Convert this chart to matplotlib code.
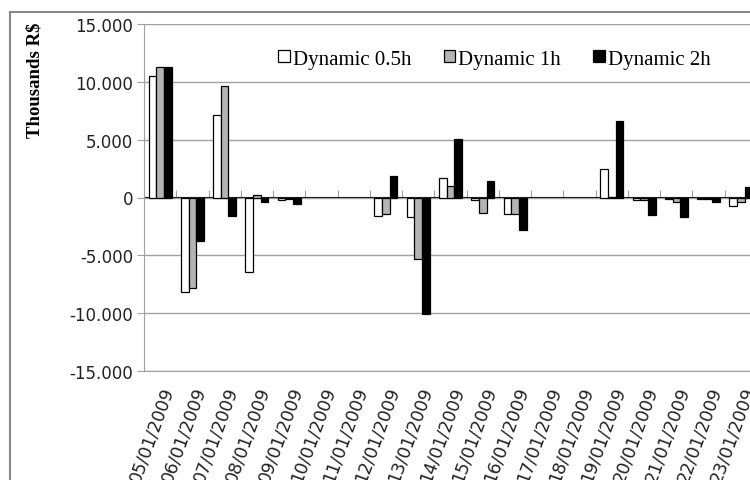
import matplotlib
matplotlib.use("Agg")
import matplotlib.pyplot as plt
import matplotlib.ticker as mtick
import numpy as np
from matplotlib.patches import Rectangle

# Daily result per strategy, thousands of R$
DATES = ["05/01/2009", "06/01/2009", "07/01/2009", "08/01/2009", "09/01/2009",
         "10/01/2009", "11/01/2009", "12/01/2009", "13/01/2009", "14/01/2009",
         "15/01/2009", "16/01/2009", "17/01/2009", "18/01/2009", "19/01/2009",
         "20/01/2009", "21/01/2009", "22/01/2009", "23/01/2009"]
DYN_05H = [10500, -8200, 7100, -6400, -200, 0, 0, -1600, -1700, 1700,
           -200, -1400, 0, 0, 2450, -200, -100, -150, -700]
DYN_1H = [11300, -7800, 9600, 200, -150, 0, 0, -1450, -5300, 1000,
          -1300, -1400, 0, 0, 50, -250, -350, -150, -400]
DYN_2H = [11300, -3800, -1600, -400, -600, 0, 0, 1900, -10100, 5100,
          1400, -2800, 0, 0, 6600, -1500, -1650, -400, 900]

SERIES = [("Dynamic 0.5h", DYN_05H, "white"),
          ("Dynamic 1h", DYN_1H, "#b4b4b4"),
          ("Dynamic 2h", DYN_2H, "black")]

GRID = "#a0a0a0"
W, H = 750, 481


def thousands(v, pos):
    return f"{int(round(v)):,}".replace(",", ".")


fig = plt.figure(figsize=(W / 100, H / 100), dpi=100)
# plot area runs a little past the right edge, as in the cropped original
ax = fig.add_axes([144 / W, 1 - 372 / H, (757 - 144) / W, (372 - 25) / H])

x = np.arange(len(DATES))
bw = 0.238
for k, (name, vals, col) in enumerate(SERIES):
    # days with no result get no outline at all
    edges = ["black" if v != 0 else "none" for v in vals]
    ax.bar(x + (k - 1) * bw, vals, width=bw, color=col, edgecolor=edges,
           linewidth=0.9, label=name, zorder=3)

ax.set_xlim(-0.5, len(DATES) - 0.5)
ax.set_ylim(-15000, 15000)
ax.set_yticks(np.arange(-15000, 15001, 5000))
ax.yaxis.set_major_formatter(mtick.FuncFormatter(thousands))
ax.grid(axis="y", color=GRID, linewidth=1.0, zorder=0)
ax.set_axisbelow(True)

for s in ["top", "right"]:
    ax.spines[s].set_visible(False)
ax.spines["left"].set_color(GRID)
ax.spines["bottom"].set_color(GRID)
ax.tick_params(axis="y", colors=GRID, length=5, labelsize=12, pad=3,
               labelcolor="#222222")

ax.set_xticks(x)
ax.set_xticklabels(DATES, rotation=70, ha="right", rotation_mode="anchor",
                   fontsize=12.5, color="#222222")
ax.tick_params(axis="x", length=0, pad=9)

# category axis drawn at zero with boundary tick marks
sec = ax.secondary_xaxis(0.5)
sec.set_xticks(np.arange(len(DATES) + 1) - 0.5)
sec.set_xticklabels([])
sec.tick_params(direction="out", length=5, color=GRID)
sec.spines["bottom"].set_color(GRID)
sec.spines["bottom"].set_linewidth(1.0)

fig.text(35 / W, 1 - 80 / H, "Thousands R$", rotation=90, ha="center",
         va="center", fontsize=13.5, fontweight="bold",
         family="Liberation Serif")

leg = fig.legend(loc="center left", bbox_to_anchor=(270 / W, 1 - 60 / H),
                 ncol=3, frameon=False,
                 prop={"family": "Liberation Serif", "size": 15},
                 handlelength=0.55, handleheight=0.55, handletextpad=0.15,
                 columnspacing=1.55, borderaxespad=0)

# outer chart-area border (cropped on right and bottom)
fig.add_artist(Rectangle((10 / W, -0.1), 1.2, 1 - 13 / H + 0.1,
                         transform=fig.transFigure, fill=False,
                         edgecolor="#888888", linewidth=1.5))

fig.savefig("out.png", dpi=100)
